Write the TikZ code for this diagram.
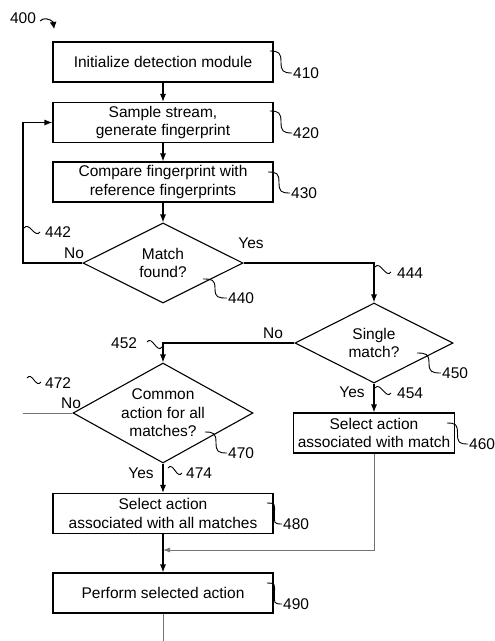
\documentclass[tikz,border=0pt]{standalone}
\usepackage{fontspec}
\setmainfont{Liberation Sans}
\usetikzlibrary{arrows.meta,positioning,shapes.geometric,calc}
\tikzset{>={Latex[length=8pt,width=6pt]}}
\tikzstyle{block} = [draw, line width=1.1pt, minimum width=220pt, minimum height=40pt, align=center, inner sep=1pt, font=\fontsize{15.5}{18.5}\selectfont]
\tikzstyle{decision} = [diamond, draw, line width=1.1pt, inner sep=-20pt, align=center, font=\fontsize{15.5}{18.5}\selectfont]
\tikzstyle{ref} = [anchor=west, inner sep=1pt, font=\fontsize{15.5}{18}\selectfont]
\tikzstyle{yesno} = [inner sep=0pt, font=\fontsize{15.5}{18}\selectfont]
\tikzstyle{thinline} = [line width=0.7pt, draw=black!55]
\newcommand{\leadline}[2]{\draw[line width=0.9pt] (#1) .. controls +(9,0) and +(0,-9) .. ($(#1)!0.5!(#2)$) .. controls +(0,9) and +(-9,0) .. (#2);}
\newcommand{\squig}[2]{\draw[line width=0.9pt] (#1) .. controls +(5,-7) and +(-5,7) .. (#2);}

\begin{document}
\begin{tikzpicture}[x=1pt, y=-1pt]
    \useasboundingbox (0,0) rectangle (495,641);
    % figure number
    \node [yesno](n400) at (23,18) {400};
    \draw [line width=1pt, -{Latex[length=7pt,width=7pt]}] (n400.east) ++(4,3) .. controls +(3,-4) and +(-3,-3) .. ++(13,1) -- ++(1,7);

    % boxes and decisions
    \node [block](b410) at (163,62) {Initialize detection module};
    \node [block](b420) at (163,122.5) {Sample stream,\\generate fingerprint};
    \node [block](b430) at (163,182) {Compare fingerprint with\\reference fingerprints};
    \node [decision, minimum width=160pt, minimum height=80pt](d440) at (163,263) {Match\\found?};
    \node [decision, minimum width=158pt, minimum height=80pt](d450) at (374,343) {Single\\match?};
    \node [decision, minimum width=180pt, minimum height=100pt](d470) at (163,413) {Common\\action for all\\matches?};
    \node [block, minimum width=161pt](b460) at (374,433) {Select action\\associated with match};
    \node [block](b480) at (163,513.5) {Select action\\associated with all matches};
    \node [block](b490) at (163,593) {Perform selected action};

    \coordinate (c442) at (23,263);
    \coordinate (c472) at (23,413);
    \coordinate (cm) at (163,550);
    \coordinate (cend) at (163,641);

    % connectors
    \draw [line width=1.1pt, ->] (b410) -- (b420);
    \draw [line width=1.1pt, ->] (b420) -- (b430);
    \draw [line width=1.1pt, ->] (b430) -- (d440);
    \draw [line width=1.1pt, ->] (d440.west) -- (c442) |- (b420.west);
    \draw [line width=1.1pt, ->] (d440.east) -| (d450.north);
    \draw [line width=1.1pt, ->] (d450.west) -| (d470.north);
    \draw [line width=1.1pt, ->] (d450.south) -- (b460.north);
    \draw [line width=1.1pt, ->] (d470.south) -- (b480.north);
    \draw [thinline] (d470.west) -- (c472);
    \draw [thinline, -{Latex[length=7pt,width=5pt]}] (b460.south) |- (cm);
    \draw [line width=1.1pt, ->] (b480) -- (b490);
    \draw [thinline] (b490.south) -- (cend);

    % yes / no
    \node [yesno](no440) at (74,253) {No};
    \node [yesno](yes440) at (251,243) {Yes};
    \node [yesno](no450) at (273,333) {No};
    \node [yesno](yes450) at (352,392) {Yes};
    \node [yesno](no470) at (71,403) {No};
    \node [yesno](yes470) at (141,473) {Yes};

    % reference numerals with leaders
    \node [ref](l410) at (292,73) {410};
    \node [ref](l420) at (292,133) {420};
    \node [ref](l430) at (290,193) {430};
    \node [ref](l440) at (227,298) {440};
    \node [ref](l450) at (441,373) {450};
    \node [ref](l460) at (468,444) {460};
    \node [ref](l470) at (227,453) {470};
    \node [ref](l480) at (282,524) {480};
    \node [ref](l490) at (282,604) {490};
    \leadline{270,51}{l410.west}
    \leadline{270,111}{l420.west}
    \leadline{268,172}{l430.west}
    \leadline{203,279}{l440.west}
    \leadline{417,353}{l450.west}
    \leadline{447,423}{l460.west}
    \leadline{205,432}{l470.west}
    \leadline{267,503}{l480.west}
    \leadline{267,583}{l490.west}

    % reference numerals with squiggles
    \node [ref](l442) at (44,232) {442};
    \node [ref](l444) at (396,273) {444};
    \node [ref](l452) at (110,343) {452};
    \node [ref](l454) at (396,393) {454};
    \node [ref](l472) at (44,383) {472};
    \node [ref](l474) at (185,473) {474};
    \squig{24,228}{40,232}
    \squig{375,267}{391,272}
    \squig{147,342}{162,347}
    \squig{375,388}{391,393}
    \squig{27,378}{41,382}
    \squig{168,468}{182,473}
\end{tikzpicture}
\end{document}
